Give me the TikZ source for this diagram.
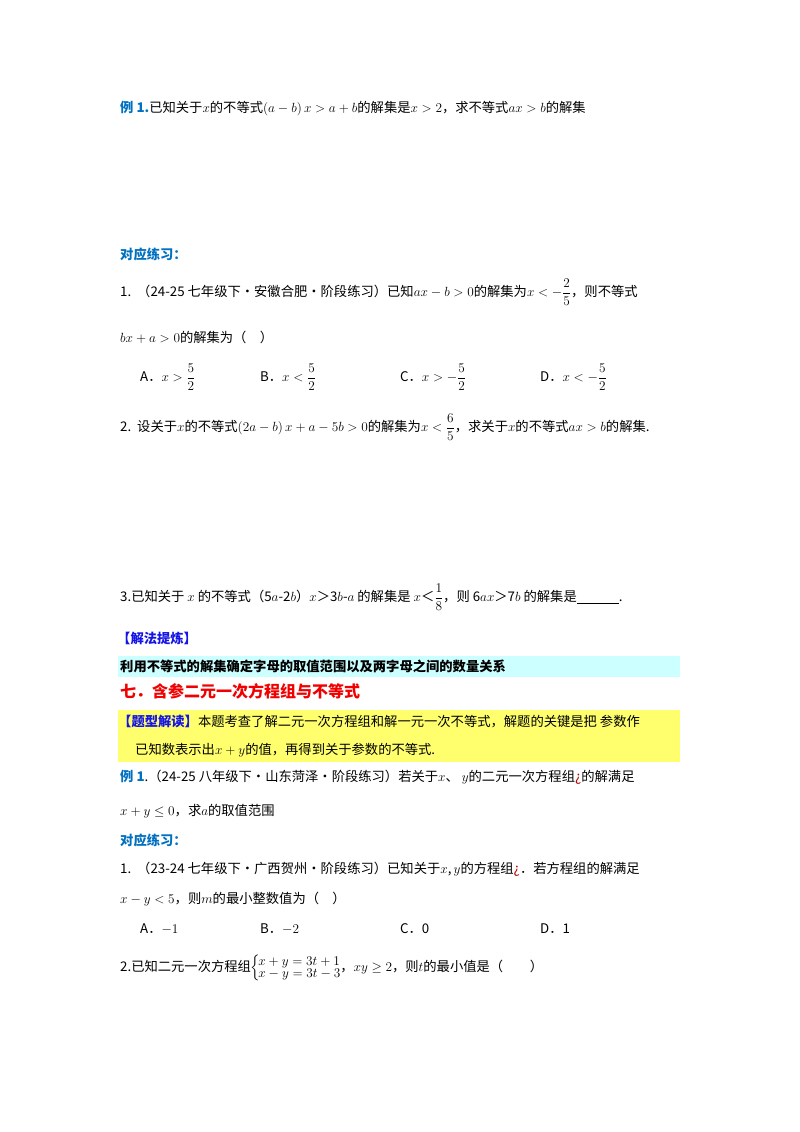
\RequirePackage{fix-cm}
\documentclass[tikz,border=0pt]{standalone}
\usepackage{amsmath}
\usepackage{fontspec}
\setmainfont{Noto Sans CJK SC}
\DeclareMathSizes{13.3}{13.3}{9.3}{7}
\definecolor{hblue}{RGB}{0,112,192}
\definecolor{kblue}{RGB}{20,20,230}
\definecolor{cyanbg}{RGB}{204,255,255}
\definecolor{yelbg}{RGB}{255,255,110}
\definecolor{redh}{RGB}{240,0,0}
\begin{document}
\begin{tikzpicture}[x=1pt,y=-1pt,
  t/.style={anchor=west,inner sep=0pt,font=\fontsize{13.3}{15}\selectfont},
  hd/.style={t,text=hblue,font=\fontsize{13.3}{15}\selectfont\bfseries}]
\useasboundingbox (0,0) rectangle (800,1132);
\fill[white] (0,0) rectangle (800,1132);
\node[t] (e1) at (120,108) {\textcolor{hblue}{\textbf{例 1.}}已知关于$x$的不等式$\left(a-b\right)x>a+b$的解集是$x>2$，求不等式$ax>b$的解集};
\node[hd] (h1) at (120,254) {对应练习：};
\node[t] (q1) at (120,292) {1.\ \ （24-25 七年级下·安徽合肥·阶段练习）已知$ax-b>0$的解集为$x<-\dfrac{2}{5}$，则不等式};
\node[t] (q1b) at (120,337) {$bx+a>0$的解集为（\quad ）};
\node[t] (oA) at (140,377) {A．$x>\dfrac{5}{2}$};
\node[t] (oB) at (260,377) {B．$x<\dfrac{5}{2}$};
\node[t] (oC) at (400,377) {C．$x>-\dfrac{5}{2}$};
\node[t] (oD) at (540,377) {D．$x<-\dfrac{5}{2}$};
\node[t] (q2) at (120,427) {2.\ \ 设关于$x$的不等式$\left(2a-b\right)x+a-5b>0$的解集为$x<\dfrac{6}{5}$，求关于$x$的不等式$ax>b$的解集.};
\node[t] (q3) at (120,597) {3.已知关于 $x$ 的不等式（5$a$-2$b$）$x$＞3$b$-$a$ 的解集是 $x$＜$\dfrac{1}{8}$，则 6$ax$＞7$b$ 的解集是\underline{\hspace{42pt}}.};
\node[t,text=kblue,font=\fontsize{13.3}{15}\selectfont\bfseries] (k1) at (117,638) {【解法提炼】};
\fill[cyanbg] (118,656) rectangle (680,677);
\node[t,font=\fontsize{13.3}{15}\selectfont\bfseries] (k2) at (120,666) {利用不等式的解集确定字母的取值范围以及两字母之间的数量关系};
\node[t,text=redh,font=\fontsize{16}{18}\selectfont\bfseries] (s7) at (120,691) {七．含参二元一次方程组与不等式};
\fill[yelbg] (118,710) rectangle (680,762);
\node[t] (y1) at (118,722) {\textcolor{kblue}{\textbf{【题型解读】}}本题考查了解二元一次方程组和解一元一次不等式，解题的关键是把 参数作};
\node[t] (y2) at (135,750) {已知数表示出$x+y$的值，再得到关于参数的不等式.};
\node[t] (e2) at (120,777) {\textcolor{hblue}{\textbf{例 1}}.（24-25 八年级下·山东菏泽·阶段练习）若关于$x$、\ $y$的二元一次方程组\textcolor{red!70!black}{¿}的解满足};
\node[t] (e2b) at (120,811) {$x+y\leq0$，求$a$的取值范围};
\node[hd] (h2) at (120,840) {对应练习：};
\node[t] (p1) at (120,869) {1.\ \ （23-24 七年级下·广西贺州·阶段练习）已知关于$x$,$\,y$的方程组\textcolor{red!70!black}{¿}．若方程组的解满足};
\node[t] (p1b) at (120,899) {$x-y<5$，则$m$的最小整数值为（\quad ）};
\node[t] (pA) at (140,929) {A．$-1$};
\node[t] (pB) at (260,929) {B．$-2$};
\node[t] (pC) at (400,929) {C．0};
\node[t] (pD) at (540,929) {D．1};
\node[t] (p2) at (120,968) {2.已知二元一次方程组$\Big\{\!\begin{array}{@{}l@{}}x+y=3t+1\\[-3pt] x-y=3t-3\end{array}$，$xy\geq2$，则$t$的最小值是（\qquad ）};
\end{tikzpicture}
\end{document}
